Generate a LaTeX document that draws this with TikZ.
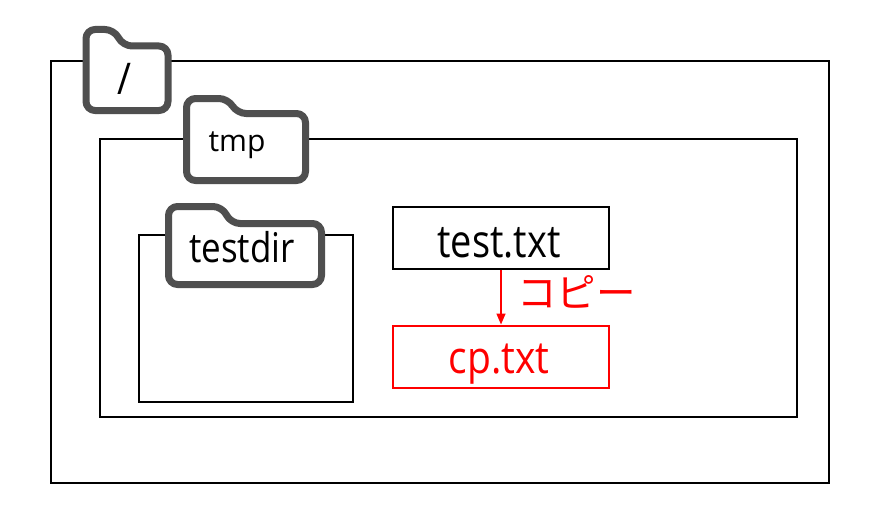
\documentclass[tikz,border=0pt]{standalone}
\usepackage{graphicx}
\usepackage{fontspec}
\setmainfont{Open Sans}
\newfontfamily\jpfont{Noto Sans CJK JP}
\usetikzlibrary{arrows.meta}
\definecolor{fold}{HTML}{4F4F4F}
\definecolor{myred}{HTML}{FF0000}
\newcommand{\vstretch}[2]{\scalebox{1}[#1]{#2}}
\tikzset{
  dirbox/.style={draw=black, line width=2pt, fill=white},
  folderline/.style={draw=fold, line width=7pt, fill=white, rounded corners=9pt, line join=round},
  filebox/.style={draw=black, line width=2pt, fill=white, minimum width=216pt, minimum height=62pt, inner sep=0pt},
  copybox/.style={filebox, draw=myred},
  label/.style={anchor=base, inner sep=0pt},
  copyarrow/.style={draw=myred, line width=1.5pt, -{Triangle[length=11pt,width=9pt]}},
}
\newcommand{\folderpath}[6]{%
  \path[folderline] (#1,#4) -- (#1,#2) -- (#5,#2) -- (#5+9,#6) -- (#3,#6) -- (#3,#4) -- cycle;}
\begin{document}
\begin{tikzpicture}[x=1pt,y=-1pt]
\useasboundingbox (0,0) rectangle (886,519);
\fill[white] (0,0) rectangle (886,519);
% root
\draw[dirbox] (51,61) rectangle (829,483);
\folderpath{86}{29.5}{168}{110.5}{114}{46}
\node[label, font=\fontsize{38}{40}\selectfont] (root) at (124,95) {\vstretch{1.15}{/}};
% tmp
\draw[dirbox] (100,139) rectangle (797,417);
\folderpath{186.5}{98.5}{305.5}{180.5}{228}{113.5}
\node[label, font=\fontsize{30}{32}\selectfont] (tmp) at (237,151) {tmp};
% testdir
\draw[dirbox] (139,235) rectangle (353,402);
\folderpath{168.5}{206.5}{321.5}{284.5}{222}{223.5}
\node[label, font=\fontsize{35}{37}\selectfont] (testdir) at (242,262) {\vstretch{1.17}{testdir}};
% files
\node[filebox] (test) at (501,238) {};
\node[label, font=\fontsize{38}{40}\selectfont] (testlbl) at (499,257) {\vstretch{1.2}{test.txt}};
\node[copybox] (cp) at (501,356.5) {};
\node[label, text=myred, font=\fontsize{39}{41}\selectfont] (cplbl) at (499,373) {\vstretch{1.15}{cp.txt}};
\draw[copyarrow] (test.south) -- (cp.north);
\node[text=myred, font=\jpfont\fontsize{39.5}{41}\selectfont, anchor=west, inner sep=0pt] (lbl) at (517,292) {コピー};
\end{tikzpicture}
\end{document}
